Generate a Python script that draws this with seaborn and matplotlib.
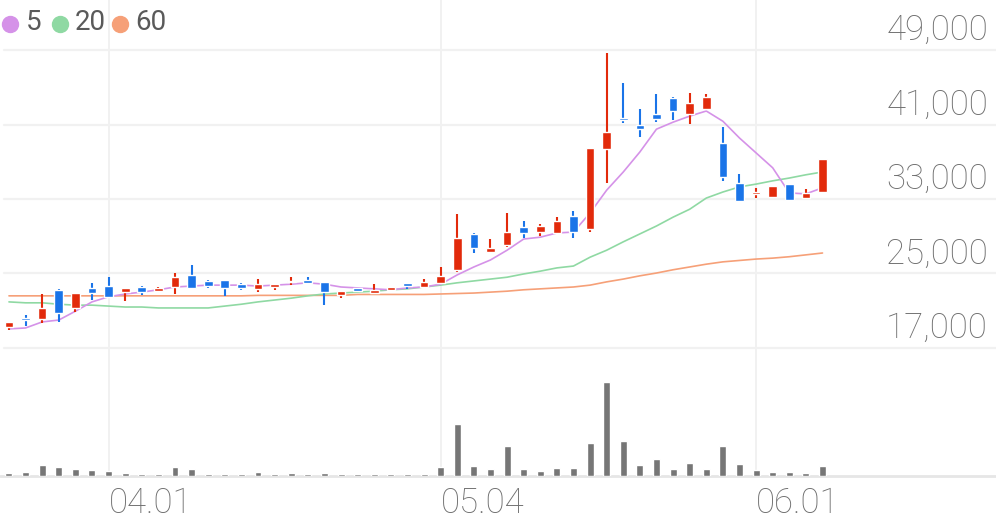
import numpy as np
import matplotlib
matplotlib.use("Agg")
import matplotlib.pyplot as plt
import seaborn as sns

# Daily candles (price in KRW), 50 trading days
opens = [19250, 20200, 20100, 23250, 21300, 23450, 23650, 23000, 23550, 23100,
         23550, 24850, 24200, 24300, 23850, 23350, 23550, 24100, 24300, 24100,
         22700, 23450, 22900, 23250, 24000, 23550, 24000, 25400, 29250, 27300,
         28050, 30000, 29450, 29350, 31150, 29800, 38350, 41700, 40950, 42150,
         43850, 42150, 42650, 39000, 34700, 33550, 33200, 34600, 33100, 33750]
highs = [19800, 20550, 22800, 23350, 22900, 24000, 24600, 23450, 23650, 23550,
         25050, 25900, 24300, 24300, 24000, 24400, 23850, 24600, 24600, 24100,
         23100, 23450, 23850, 23550, 24000, 24400, 25700, 31400, 29350, 28700,
         31500, 30650, 30300, 31050, 31700, 38500, 48700, 45450, 42650, 44300,
         43950, 44400, 44300, 40750, 35700, 34200, 34400, 34600, 34050, 37300]
lows = [18950, 19350, 19700, 19800, 20850, 22150, 22500, 22050, 22700, 23000,
        22800, 23450, 23450, 22600, 23250, 23000, 23250, 23750, 23850, 21600,
        22350, 23000, 22800, 23100, 23350, 23450, 24000, 25150, 27200, 27200,
        27850, 28800, 29050, 29350, 28800, 29450, 34700, 41150, 39650, 41250,
        41500, 41050, 42650, 34950, 32800, 33100, 33200, 32900, 33100, 33750]
closes = [19800, 20000, 21300, 20750, 22900, 22900, 22500, 23450, 23000, 23450,
          24600, 23450, 23650, 23450, 23450, 23850, 23850, 24200, 24000, 23000,
          23100, 23100, 23250, 23550, 23650, 24100, 24750, 28800, 27750, 27750,
          29450, 29350, 30100, 30650, 29450, 38500, 40200, 41500, 40500, 41600,
          42450, 43300, 43950, 35350, 32800, 33750, 34400, 32900, 33650, 37300]

# moving averages as drawn on the chart
ma5 = [19050, 19150, 19800, 20000, 20950, 21950, 22500, 22800, 23000, 23250,
       23550, 23650, 23750, 23750, 23750, 23650, 23750, 23850, 24000, 23850,
       23550, 23450, 23350, 23250, 23450, 23550, 23850, 24850, 25700, 26450,
       27500, 28700, 28900, 29350, 29450, 31500, 33950, 35900, 38050, 40500,
       41250, 41900, 42450, 41350, 39550, 37950, 36350, 33650, 33550, 34200]
ma20 = [21950, 21850, 21850, 21700, 21600, 21600, 21500, 21400, 21400, 21300,
        21300, 21300, 21300, 21500, 21700, 21950, 22150, 22350, 22600, 22800,
        22900, 23000, 23100, 23250, 23350, 23550, 23750, 24000, 24200, 24400,
        24600, 24950, 25250, 25600, 25800, 26750, 27500, 28400, 29250, 30100,
        31050, 31900, 33100, 33750, 34300, 34600, 34950, 35250, 35600, 35900]
ma60 = [22600, 22600, 22600, 22600, 22600, 22600, 22600, 22600, 22600, 22600,
        22600, 22600, 22600, 22600, 22600, 22650, 22650, 22650, 22650, 22650,
        22650, 22750, 22750, 22750, 22750, 22750, 22800, 22850, 22900, 23000,
        23100, 23250, 23350, 23450, 23550, 23750, 24100, 24400, 24750, 25050,
        25400, 25700, 26000, 26250, 26400, 26550, 26650, 26800, 27000, 27200]

# volume (thousand shares)
volume = [35, 42, 110, 93, 70, 60, 50, 35, 25, 25, 90, 70, 25, 25, 25, 42, 25, 32, 25, 32,
          18, 18, 18, 18, 18, 25, 90, 520, 100, 70, 300, 70, 50, 80, 83, 330, 940, 350, 113, 170,
          73, 133, 73, 300, 120, 60, 42, 42, 28, 103]

price_ticks = [17000, 25000, 33000, 41000, 49000]
date_pos = [6, 26, 45]
date_labels = ["04.01", "05.04", "06.01"]

ma_names = ["5", "20", "60"]
ma_colors = ["#d592e8", "#8fd9a3", "#f6a078"]
up_color = "#e22a0b"
down_color = "#1a74e8"
vol_color = "#767676"
grid_color = "#f1f1f1"
text_color = "#6e6e6e"

sns.set_style("white")
plt.rcParams["font.family"] = ["Roboto", "DejaVu Sans"]

W, H = 996, 519
fig = plt.figure(figsize=(W / 100, H / 100), dpi=100)
ax = fig.add_axes([0, 1 - 360 / H, 1, 360 / H])
axv = fig.add_axes([0, 1 - 476 / H, 1, 116 / H])

idx = np.arange(len(closes))
o = np.array(opens)
c = np.array(closes)
cols = [up_color if cc >= oo else down_color for oo, cc in zip(o, c)]

# grid
for v in price_ticks:
    ax.axhline(v, xmin=0.004, color=grid_color, lw=1.6, zorder=0)
for p in date_pos:
    ax.axvline(p, color=grid_color, lw=1.4, zorder=0)
    axv.axvline(p, color=grid_color, lw=1.4, zorder=0)

# moving averages
for ma, col in zip([ma60, ma20, ma5], ma_colors[::-1]):
    sns.lineplot(x=idx, y=ma, ax=ax, color=col, lw=1.2, estimator=None, zorder=2)

# candles
ax.vlines(idx, lows, highs, colors=cols, lw=1.5, zorder=3)
body = np.maximum(np.abs(c - o), 120)
ax.bar(idx, body, bottom=np.minimum(o, c), width=0.52, color=cols, zorder=4)

ax.set_xlim(-0.54, 59.45)
ax.set_ylim(15710, 54370)

for v in price_ticks:
    ax.annotate(f"{v:,}", xy=(1, v), xycoords=("axes fraction", "data"),
                xytext=(-5.8, 7.2), textcoords="offset points", ha="right",
                va="baseline", fontsize=25, fontweight="light", color=text_color)

# volume
axv.axhline(0, color="#e6e6e6", lw=2, zorder=1, clip_on=False)
axv.bar(idx, volume, width=0.42, color=vol_color, zorder=2)
axv.set_xlim(-0.54, 59.45)
axv.set_ylim(0, 1160)
for p, lab in zip(date_pos, date_labels):
    axv.annotate(lab, xy=(p, 0), xycoords="data", xytext=(0, -26.6),
                 textcoords="offset points", ha="left", va="baseline",
                 fontsize=25, fontweight="light", color=text_color,
                 annotation_clip=False)

for a in (ax, axv):
    a.set_xticks([])
    a.set_yticks([])
    a.set_xlabel("")
    a.set_ylabel("")
    for s in a.spines.values():
        s.set_visible(False)
    a.patch.set_alpha(0)

# legend
for name, col, cx, tx in zip(ma_names, ma_colors, [10, 60, 120], [25.5, 75, 135]):
    fig.add_artist(plt.Line2D([cx / W], [1 - 24 / H], marker="o", markersize=11.5,
                              color=col, lw=0, transform=fig.transFigure))
    fig.text(tx / W, 1 - 29.5 / H, name, fontsize=20, color="#5a5a5a",
             ha="left", va="baseline")

fig.savefig("out.png", dpi=100)
